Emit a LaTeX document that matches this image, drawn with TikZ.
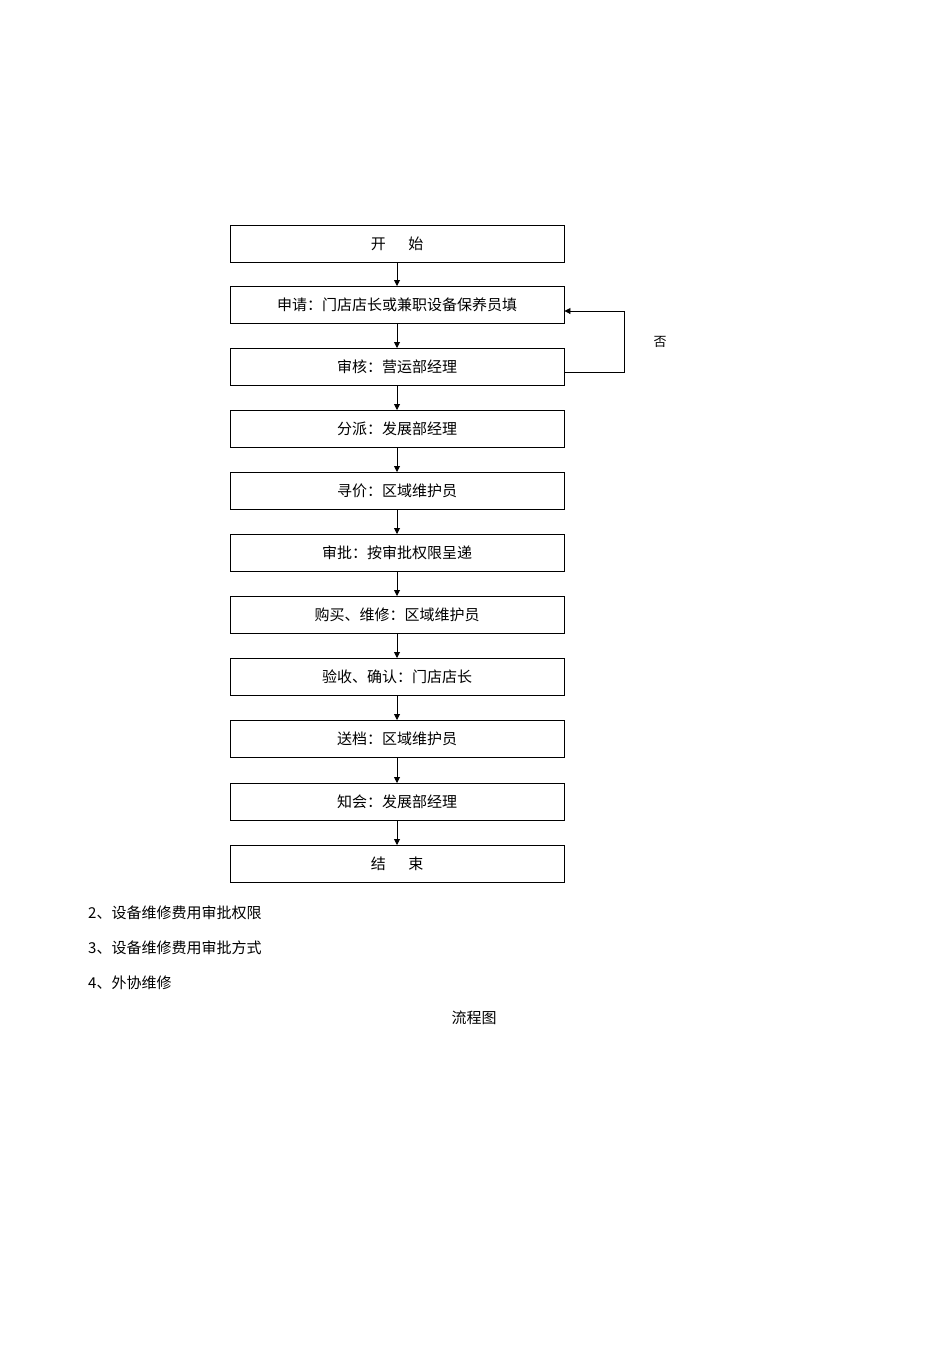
\documentclass[tikz,border=0pt]{standalone}
\usepackage{fontspec}
\setmainfont{Noto Sans CJK SC}
\usetikzlibrary{arrows.meta}
\begin{document}
\begin{tikzpicture}[x=1pt,y=-1pt,
  box/.style={draw,line width=0.9pt,minimum width=334pt,minimum height=37pt,inner sep=0pt,font=\fontsize{15}{18}\selectfont,anchor=north},
  arr/.style={-{Triangle[length=6pt,width=6pt]},line width=0.9pt},
  txt/.style={font=\fontsize{15}{18}\selectfont,anchor=west,inner sep=0pt}]
\useasboundingbox (0,0) rectangle (950,1345);
\node[box] (b1) at (397,225) {开\hspace{1.5em}始};
\node[box] (b2) at (397,286) {申请：门店店长或兼职设备保养员填};
\node[box] (b3) at (397,348) {审核：营运部经理};
\node[box] (b4) at (397,410) {分派：发展部经理};
\node[box] (b5) at (397,472) {寻价：区域维护员};
\node[box] (b6) at (397,534) {审批：按审批权限呈递};
\node[box] (b7) at (397,596) {购买、维修：区域维护员};
\node[box] (b8) at (397,658) {验收、确认：门店店长};
\node[box] (b9) at (397,720) {送档：区域维护员};
\node[box] (b10) at (397,783) {知会：发展部经理};
\node[box] (b11) at (397,845) {结\hspace{1.5em}束};
\foreach \a/\b in {b1/b2,b2/b3,b3/b4,b4/b5,b5/b6,b6/b7,b7/b8,b8/b9,b9/b10,b10/b11}
  \draw[arr] (\a.south) -- (\b.north);
\coordinate (c1) at (624,372);
\coordinate (c2) at (624,311);
\draw[arr] (b3.east |- c1) -- (c1) -- (c2) -- (b2.east |- c2);
\node[font=\fontsize{13}{15}\selectfont] (no) at (660,342) {否};
\node[txt] (t1) at (88,913) {2、设备维修费用审批权限};
\node[txt] (t2) at (88,948) {3、设备维修费用审批方式};
\node[txt] (t3) at (88,983) {4、外协维修};
\node[font=\fontsize{15}{18}\selectfont] (t4) at (474,1018) {流程图};
\end{tikzpicture}
\end{document}
